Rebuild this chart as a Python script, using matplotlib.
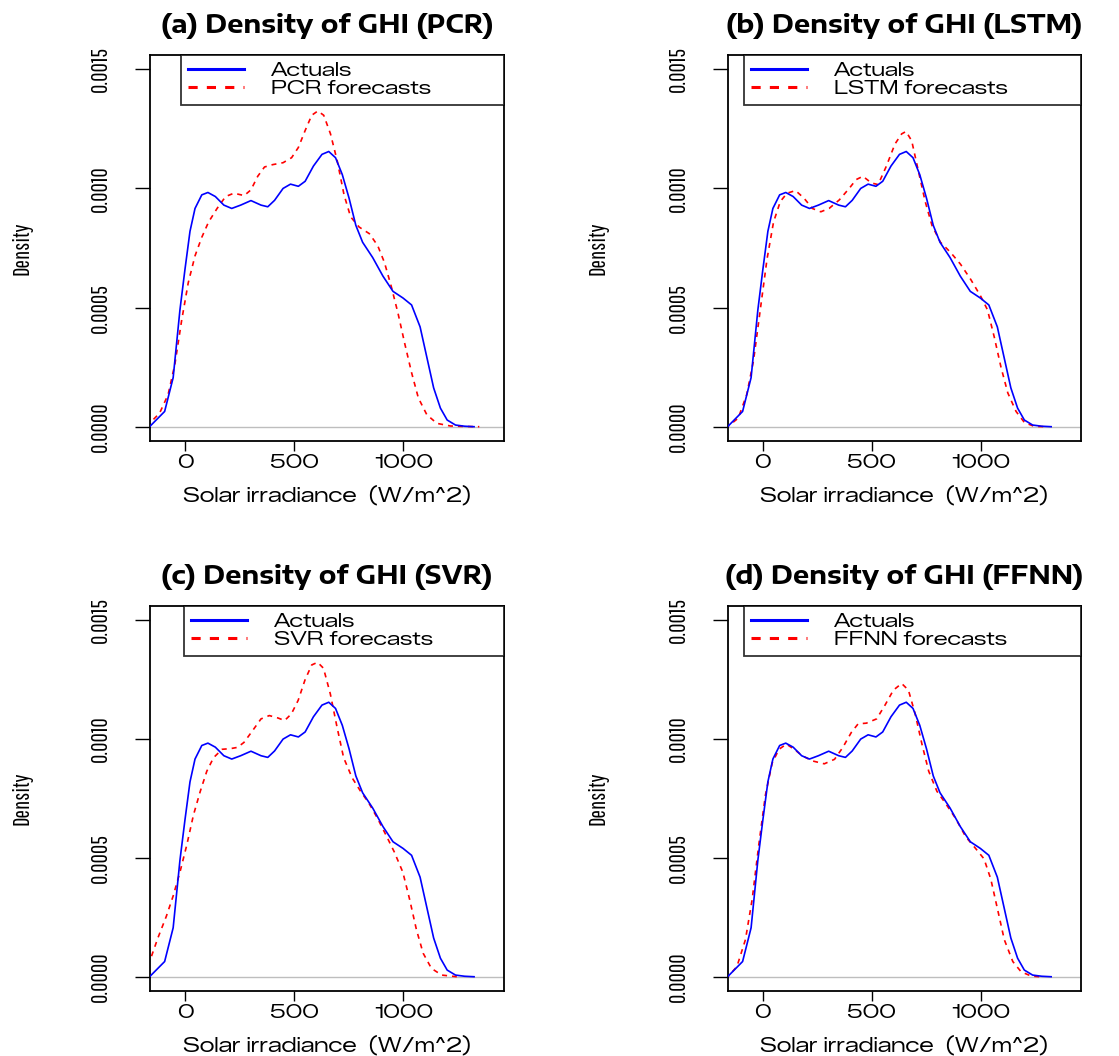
import numpy as np
import matplotlib
matplotlib.use("Agg")
import matplotlib.pyplot as plt
from matplotlib.lines import Line2D

# kernel density curves of GHI, density values in units of 1e-3
actual_x = [-175, -162, -93, -54, -23, 0, 23, 46, 77, 105, 139, 178, 214, 255, 302, 348, 379,
            410, 449, 483, 519, 550, 588, 627, 658, 689, 720, 751, 782, 813, 859, 906, 952,
            998, 1037, 1076, 1107, 1138, 1169, 1200, 1238, 1280, 1323]
actual_y = [0.0, 0.0, 0.064, 0.206, 0.49, 0.66, 0.82, 0.916, 0.973, 0.983, 0.966, 0.93, 0.916,
            0.93, 0.949, 0.93, 0.923, 0.95, 1.0, 1.018, 1.009, 1.03, 1.094, 1.143, 1.155, 1.129,
            1.058, 0.959, 0.845, 0.774, 0.71, 0.632, 0.568, 0.54, 0.511, 0.419, 0.291, 0.163,
            0.078, 0.028, 0.007, 0.002, 0.0]

pcr_x = [-175, -162, -116, -77, -46, -15, 15, 46, 77, 108, 147, 186, 224, 271, 302, 333, 364,
         402, 449, 488, 519, 550, 580, 608, 635, 666, 697, 728, 758, 797, 844, 882, 913, 944,
         975, 1006, 1037, 1068, 1107, 1153, 1215, 1280, 1347]
pcr_y = [0.0, 0.014, 0.057, 0.135, 0.263, 0.447, 0.604, 0.717, 0.795, 0.859, 0.916, 0.966, 0.98,
         0.97, 0.994, 1.051, 1.09, 1.10, 1.108, 1.129, 1.172, 1.243, 1.307, 1.325, 1.307, 1.229,
         1.115, 0.973, 0.881, 0.838, 0.81, 0.76, 0.689, 0.589, 0.476, 0.348, 0.227, 0.121, 0.05,
         0.014, 0.003, 0.001, 0.0]

lstm_x = [-175, -162, -113, -74, -43, -12, 19, 49, 80, 111, 150, 189, 227, 266, 304, 351, 397,
          428, 459, 498, 529, 567, 606, 637, 657, 683, 714, 745, 776, 815, 861, 907, 954, 1000,
          1031, 1062, 1093, 1124, 1162, 1201, 1247, 1309]
lstm_y = [0.0, 0.0, 0.036, 0.135, 0.277, 0.49, 0.703, 0.859, 0.945, 0.98, 0.991, 0.959, 0.916,
          0.902, 0.916, 0.952, 1.001, 1.037, 1.051, 1.023, 1.016, 1.094, 1.186, 1.229, 1.239, 1.2,
          1.072, 0.945, 0.845, 0.774, 0.732, 0.682, 0.618, 0.547, 0.49, 0.376, 0.249, 0.142,
          0.064, 0.017, 0.001, 0.0]

svr_x = [-175, -159, -124, -85, -54, -23, 8, 39, 70, 100, 131, 170, 209, 240, 270, 309, 348, 386,
         425, 456, 487, 518, 549, 580, 607, 634, 665, 696, 726, 765, 804, 842, 881, 920, 958, 997,
         1028, 1059, 1090, 1128, 1175, 1244]
svr_y = [0.05, 0.071, 0.163, 0.255, 0.34, 0.44, 0.553, 0.681, 0.78, 0.865, 0.922, 0.957, 0.96,
         0.965, 0.986, 1.035, 1.085, 1.099, 1.089, 1.078, 1.106, 1.163, 1.248, 1.312, 1.323,
         1.298, 1.191, 1.05, 0.922, 0.837, 0.78, 0.73, 0.667, 0.596, 0.525, 0.44, 0.326, 0.199,
         0.099, 0.035, 0.007, 0.0]

ffnn_x = [-175, -160, -119, -80, -49, -19, 12, 43, 74, 108, 144, 182, 228, 282, 329, 367, 406,
          437, 475, 522, 560, 599, 637, 668, 699, 730, 761, 799, 838, 884, 931, 977, 1015, 1046,
          1077, 1108, 1147, 1185, 1231, 1270]
ffnn_y = [0.0, 0.0, 0.043, 0.156, 0.326, 0.553, 0.766, 0.9, 0.957, 0.979, 0.957, 0.929, 0.908,
          0.896, 0.915, 0.965, 1.028, 1.064, 1.067, 1.085, 1.142, 1.206, 1.234, 1.206, 1.106,
          0.979, 0.865, 0.78, 0.73, 0.667, 0.589, 0.539, 0.496, 0.411, 0.284, 0.156, 0.064,
          0.021, 0.003, 0.0]

titles = ["(a) Density of GHI (PCR)", "(b) Density of GHI (LSTM)",
          "(c) Density of GHI (SVR)", "(d) Density of GHI (FFNN)"]
forecast_labels = ["PCR forecasts", "LSTM forecasts", "SVR forecasts", "FFNN forecasts"]
forecasts = [(pcr_x, pcr_y), (lstm_x, lstm_y), (svr_x, svr_y), (ffnn_x, ffnn_y)]

x_ticks = [0, 500, 1000]
y_ticks = [0.0, 0.0005, 0.0010, 0.0015]
y_ticklabels = ["0.0000", "0.0005", "0.0010", "0.0015"]

wide = ["Zalando Sans Expanded", "Encode Sans Expanded", "DejaVu Sans"]
wide_bold = ["Encode Sans Expanded", "DejaVu Sans"]
narrow = ["Pathway Gothic One", "Roboto Condensed", "DejaVu Sans"]
plt.rcParams['font.family'] = wide

W, H = 1119, 1056
fig = plt.figure(figsize=(W / 100, H / 100), dpi=100)

# axes box in pixels: left, right, top, bottom, legend left edge
boxes = [(150, 504, 55, 441, 181), (728, 1081, 55, 441, 744),
         (150, 504, 606, 991, 184), (728, 1081, 606, 991, 744)]

for i, (l, r, t, b, lg) in enumerate(boxes):
    fx, fy = forecasts[i]
    ax = fig.add_axes([l / W, 1 - b / H, (r - l) / W, (b - t) / H])
    ax.axhline(0, color="#bebebe", lw=1.0, zorder=1)
    ax.plot(actual_x, np.array(actual_y) * 1e-3, color="blue", lw=1.2, zorder=3)
    ax.plot(fx, np.array(fy) * 1e-3, color="red", lw=1.2, ls=(0, (3, 3)), zorder=2)
    ax.set_xlim(-160, 1460)
    ax.set_ylim(-0.00006, 0.00156)

    ax.set_xticks(x_ticks)
    ax.set_xticklabels([str(v) for v in x_ticks], fontsize=14)
    ax.set_yticks(y_ticks)
    ax.set_yticklabels(y_ticklabels, family=narrow, fontsize=16.5, rotation=90, va="center")
    ax.tick_params(axis="x", direction="out", length=7, width=1.0, pad=2)
    ax.tick_params(axis="y", direction="out", length=11, width=1.0, pad=17)
    for s in ax.spines.values():
        s.set_linewidth(1.3)

    ax.set_title(titles[i], family=wide_bold, fontsize=18.5, fontweight="bold", pad=16)
    ax.set_xlabel("Solar irradiance  (W/m^2)", fontsize=14.5, va="center")
    ax.xaxis.set_label_coords(0.5, -(55 / (b - t)))
    ax.set_ylabel("Density", family=narrow, fontsize=16.5, va="center")
    ax.yaxis.set_label_coords(-(l - (22 if l < 500 else 598)) / (r - l), 0.5)

    handles = [Line2D([], [], color="blue", lw=2.2),
               Line2D([], [], color="red", lw=2.2, ls=(0, (3, 3)))]
    x0 = (lg - l) / (r - l)
    leg = ax.legend(handles, ["Actuals", forecast_labels[i]], loc="upper left",
                    bbox_to_anchor=(x0, 0, 1 - x0, 1), mode="expand", fontsize=14,
                    frameon=True, fancybox=False, borderaxespad=0, borderpad=0.35,
                    labelspacing=0.0, handlelength=2.9, handletextpad=1.4)
    leg.get_frame().set_edgecolor("black")
    leg.get_frame().set_linewidth(1.3)

fig.savefig("out.png", dpi=100)
